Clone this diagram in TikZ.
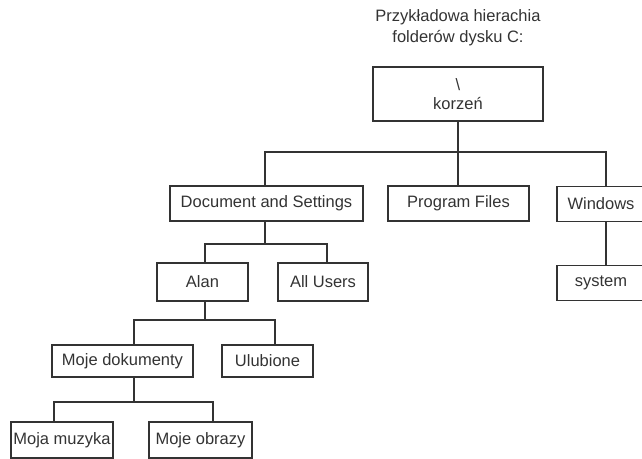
\documentclass[tikz,border=0pt]{standalone}
\usepackage{fontspec}
\setmainfont{Liberation Sans}
\usetikzlibrary{positioning}

\begin{document}
\begin{tikzpicture}[x=1pt,y=-1pt,
      every node/.style={text=black!80,font=\fontsize{16.5}{19}\selectfont},
      folder/.style={draw=black!80,line width=1.2pt,minimum height=35pt,inner sep=0pt},
      link/.style={draw=black!80,line width=1.2pt}]
      \useasboundingbox (0,0) rectangle (642,458);

      \node[folder,minimum width=170pt,minimum height=54pt,align=center] (root) at (458,94)
        {\textbackslash\\korzeń};
      \node[align=center,font=\fontsize{16.5}{21}\selectfont,above=17pt of root] (title)
        {Przykładowa hierachia\\folderów dysku C:};

      \node[folder,minimum width=193pt] (node-docs) at (266.5,203.5) {Document and Settings};
      \node[folder,minimum width=141pt] (node-progs) at (458.5,203.5) {Program Files};
      \node[folder,minimum width=88pt] (node-win) at (601,204) {Windows};
      \node[folder,minimum width=88pt,below=43pt of node-win] (node-system) {system};

      \node[folder,minimum width=91pt,minimum height=38pt] (node-alan) at (202.5,282) {Alan};
      \node[folder,minimum width=90pt,minimum height=38pt] (node-all) at (323,282) {All Users};

      \node[folder,minimum width=141pt,minimum height=32pt] (node-mydocs) at (122.5,361) {Moje dokumenty};
      \node[folder,minimum width=91pt,minimum height=32pt] (node-fav) at (267.5,361) {Ulubione};

      \node[folder,minimum width=102pt,minimum height=36pt] (node-music) at (62,440) {Moja muzyka};
      \node[folder,minimum width=103pt,minimum height=36pt] (node-pics) at (200.5,440) {Moje obrazy};

      \coordinate (bus-root) at (458,152);
      \coordinate (bus-docs) at (265,244);
      \coordinate (bus-alan) at (205,320);
      \coordinate (bus-mydocs) at (134,402);

      \draw[link] (root.south) -- (bus-root);
      \draw[link] ([xshift=-1.5pt]node-docs.north) |- (bus-root) -| ([xshift=5pt]node-win.north);
      \draw[link] (bus-root) -- ([xshift=-0.5pt]node-progs.north);
      \draw[link] ([xshift=5pt]node-win.south) -- ([xshift=5pt]node-system.north);

      \draw[link] ([xshift=-1.5pt]node-docs.south) -- (bus-docs);
      \draw[link] ([xshift=2.5pt]node-alan.north) |- (bus-docs) -| ([xshift=4pt]node-all.north);

      \draw[link] ([xshift=2.5pt]node-alan.south) -- (bus-alan);
      \draw[link] ([xshift=11.5pt]node-mydocs.north) |- (bus-alan) -| ([xshift=7.5pt]node-fav.north);

      \draw[link] ([xshift=11.5pt]node-mydocs.south) -- (bus-mydocs);
      \draw[link] ([xshift=-8pt]node-music.north) |- (bus-mydocs) -| ([xshift=12.5pt]node-pics.north);
\end{tikzpicture}
\end{document}
